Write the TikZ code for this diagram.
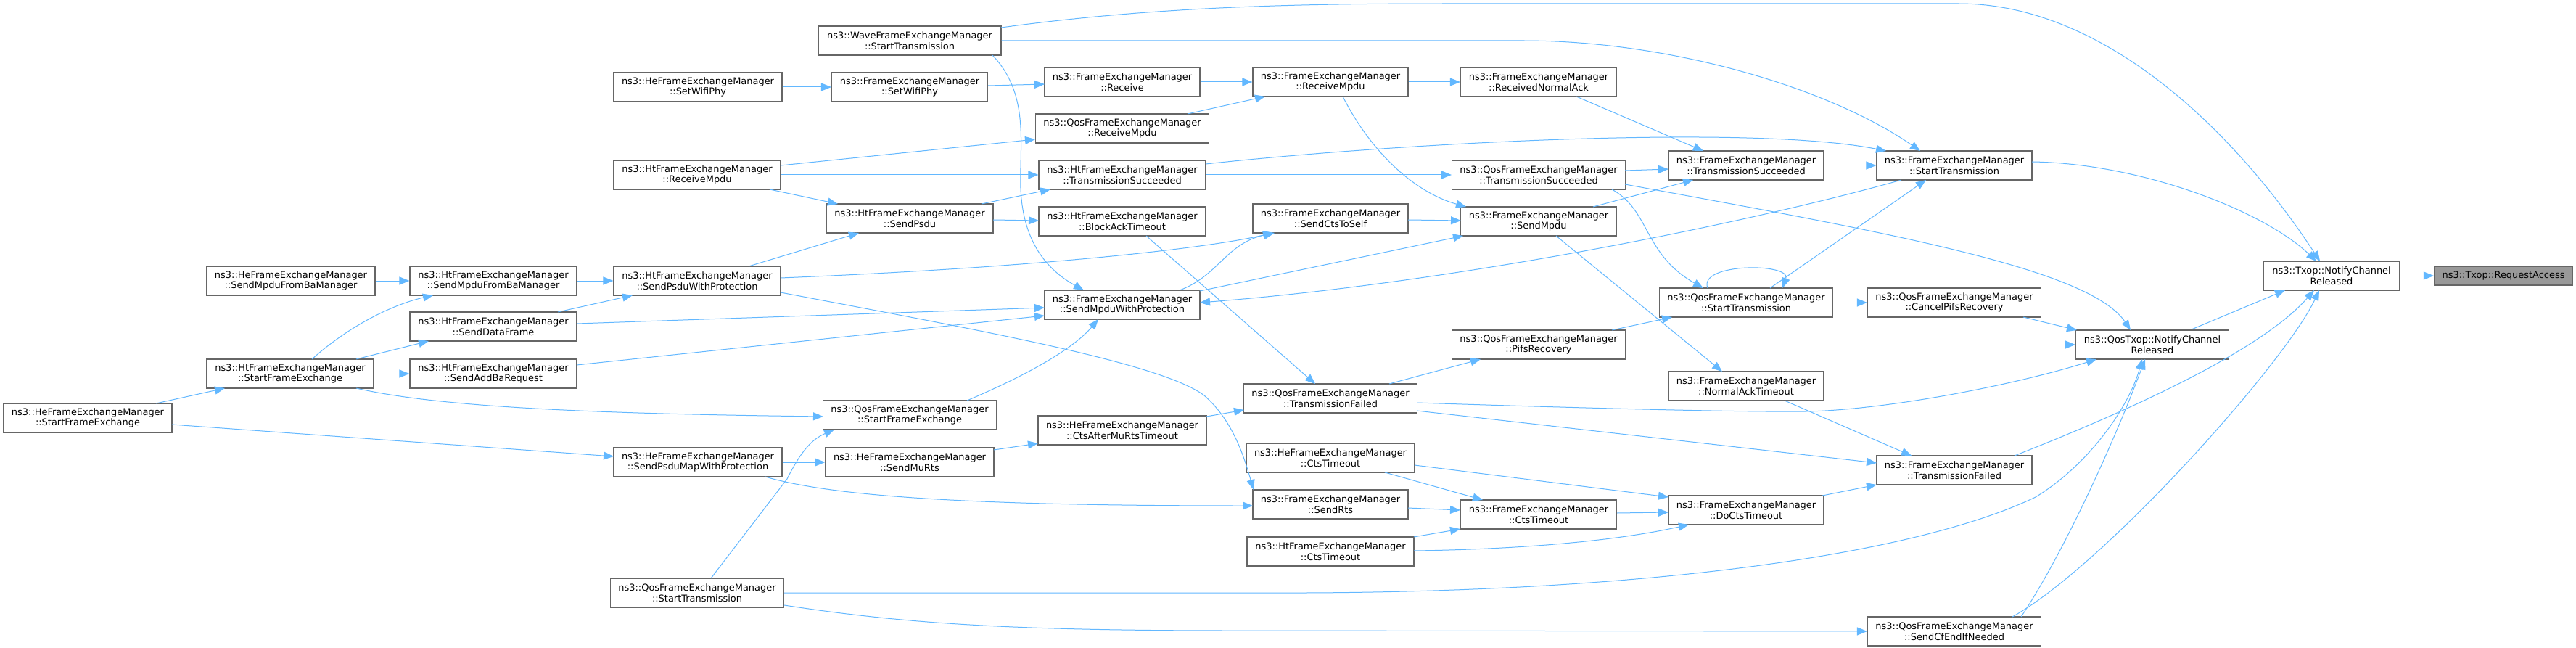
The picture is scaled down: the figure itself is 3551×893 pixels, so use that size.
\documentclass[tikz,border=0pt]{standalone}
\usepackage{fontspec}
\setmainfont{DejaVu Sans}
\usetikzlibrary{arrows.meta,calc}
\definecolor{boxgray}{HTML}{666666}
\definecolor{rootgray}{HTML}{999999}
\definecolor{edgeblue}{HTML}{63B8FF}
\newcommand\nodefont{\fontsize{12.95pt}{14.7pt}\selectfont}
\begin{document}
\begin{tikzpicture}[x=1pt,y=-1pt,
  box/.style={draw=boxgray, line width=1.1pt, fill=white, inner sep=0pt, align=center,
    font=\nodefont, minimum height=40pt, text=black},
  rootbox/.style={box, fill=rootgray, minimum height=26pt},
  e/.style={draw=edgeblue, line width=1.0pt, -{Triangle[length=14pt,width=11pt]}}]
\useasboundingbox[fill=white] (0,0) rectangle (3551,893);

% nodes
\node[box, minimum width=232pt] (A1) at (401,387) {ns3::HeFrameExchangeManager\\::SendMpduFromBaManager};
\node[box, minimum width=232pt] (A2) at (121,576) {ns3::HeFrameExchangeManager\\::StartFrameExchange};
\node[box, minimum width=230pt] (B1) at (680,387) {ns3::HtFrameExchangeManager\\::SendMpduFromBaManager};
\node[box, minimum width=230pt] (B2) at (680,450) {ns3::HtFrameExchangeManager\\::SendDataFrame};
\node[box, minimum width=230pt] (B3) at (680,515) {ns3::HtFrameExchangeManager\\::SendAddBaRequest};
\node[box, minimum width=230pt] (B4) at (400,515) {ns3::HtFrameExchangeManager\\::StartFrameExchange};
\node[box, minimum width=232pt] (C1) at (962,120) {ns3::HeFrameExchangeManager\\::SetWifiPhy};
\node[box, minimum width=230pt] (C2) at (961,241) {ns3::HtFrameExchangeManager\\::ReceiveMpdu};
\node[box, minimum width=230pt] (C3) at (961,387) {ns3::HtFrameExchangeManager\\::SendPsduWithProtection};
\node[box, minimum width=232pt] (C4) at (962,637) {ns3::HeFrameExchangeManager\\::SendPsduMapWithProtection};
\node[box, minimum width=239pt] (C5) at (961,817) {ns3::QosFrameExchangeManager\\::StartTransmission};
\node[box, minimum width=252pt] (D1) at (1254,56) {ns3::WaveFrameExchangeManager\\::StartTransmission};
\node[box, minimum width=215pt] (D2) at (1254,120) {ns3::FrameExchangeManager\\::SetWifiPhy};
\node[box, minimum width=230pt] (D3) at (1254,301) {ns3::HtFrameExchangeManager\\::SendPsdu};
\node[box, minimum width=239pt] (D4) at (1254,572) {ns3::QosFrameExchangeManager\\::StartFrameExchange};
\node[box, minimum width=232pt] (D5) at (1254,637) {ns3::HeFrameExchangeManager\\::SendMuRts};
\node[box, minimum width=214pt] (E1) at (1547,113) {ns3::FrameExchangeManager\\::Receive};
\node[box, minimum width=239pt] (E2) at (1547,177) {ns3::QosFrameExchangeManager\\::ReceiveMpdu};
\node[box, minimum width=230pt] (E3) at (1547,241) {ns3::HtFrameExchangeManager\\::TransmissionSucceeded};
\node[box, minimum width=230pt] (E4) at (1547,305) {ns3::HtFrameExchangeManager\\::BlockAckTimeout};
\node[box, minimum width=214pt] (E5) at (1547,420) {ns3::FrameExchangeManager\\::SendMpduWithProtection};
\node[box, minimum width=232pt] (E6) at (1547,593) {ns3::HeFrameExchangeManager\\::CtsAfterMuRtsTimeout};
\node[box, minimum width=214pt] (F1) at (1834,113) {ns3::FrameExchangeManager\\::ReceiveMpdu};
\node[box, minimum width=214pt] (F2) at (1834,301) {ns3::FrameExchangeManager\\::SendCtsToSelf};
\node[box, minimum width=239pt] (F3) at (1834,549) {ns3::QosFrameExchangeManager\\::TransmissionFailed};
\node[box, minimum width=232pt] (F4) at (1834,631) {ns3::HeFrameExchangeManager\\::CtsTimeout};
\node[box, minimum width=214pt] (F5) at (1834,695) {ns3::FrameExchangeManager\\::SendRts};
\node[box, minimum width=230pt] (F6) at (1834,760) {ns3::HtFrameExchangeManager\\::CtsTimeout};
\node[box, minimum width=215pt] (G1) at (2121,113) {ns3::FrameExchangeManager\\::ReceivedNormalAck};
\node[box, minimum width=239pt] (G2) at (2121,241) {ns3::QosFrameExchangeManager\\::TransmissionSucceeded};
\node[box, minimum width=215pt] (G3) at (2121,305) {ns3::FrameExchangeManager\\::SendMpdu};
\node[box, minimum width=239pt] (G4) at (2121,475) {ns3::QosFrameExchangeManager\\::PifsRecovery};
\node[box, minimum width=215pt] (G5) at (2121,709) {ns3::FrameExchangeManager\\::CtsTimeout};
\node[box, minimum width=214pt] (H1) at (2407,228) {ns3::FrameExchangeManager\\::TransmissionSucceeded};
\node[box, minimum width=239pt] (H2) at (2407,417) {ns3::QosFrameExchangeManager\\::StartTransmission};
\node[box, minimum width=214pt] (H3) at (2407,532) {ns3::FrameExchangeManager\\::NormalAckTimeout};
\node[box, minimum width=214pt] (H4) at (2407,703) {ns3::FrameExchangeManager\\::DoCtsTimeout};
\node[box, minimum width=214pt] (I1) at (2694,228) {ns3::FrameExchangeManager\\::StartTransmission};
\node[box, minimum width=239pt] (I2) at (2694,417) {ns3::QosFrameExchangeManager\\::CancelPifsRecovery};
\node[box, minimum width=214pt] (I3) at (2694,648) {ns3::FrameExchangeManager\\::TransmissionFailed};
\node[box, minimum width=239pt] (I4) at (2694,870) {ns3::QosFrameExchangeManager\\::SendCfEndIfNeeded};
\node[box, minimum width=211pt] (J1) at (2967,475) {ns3::QosTxop::NotifyChannel\\Released};
\node[box, minimum width=187pt] (K1) at (3214,380) {ns3::Txop::NotifyChannel\\Released};
\node[rootbox, minimum width=191pt] (L1) at (3451,380) {ns3::Txop::RequestAccess};

% edges
\draw[e] (K1.east) -- (L1.west);
\draw[e] ($(J1)+(54,-21)$) -- ($(K1)+(-64,20)$);
\draw[e] ($(I1)+(107,-5)$) .. controls (2950,225) and (3120,290) .. ($(K1)+(-21,-20)$);
\draw[e] ($(D1)+(126,-18)$) .. controls (1600,8) and (1800,5) .. (2000,5) -- (2700,5)
   .. controls (2900,5) and (3080,180) .. ($(K1)+(-16,-20)$);
\draw[e] (D1.east) -- (2100,56) .. controls (2300,56) and (2520,120) .. ($(I1)+(-47,-20)$);
\draw[e] ($(E3)+(115,-15)$) .. controls (1950,195) and (2420,172) .. ($(I1)+(-94,-20)$);
\draw[e] (E3.east) -- (G2.west);
\draw[e] (C2.east) -- (E3.west);
\draw[e] ($(C2)+(115,-13)$) -- ($(E2)+(-120,15)$);
\draw[e] ($(C2)+(100,20)$) -- ($(D3)+(-99,-20)$);
\draw[e] ($(D3)+(99,-20)$) -- ($(E3)+(-99,20)$);
\draw[e] ($(D3)+(115,2)$) -- ($(E4)+(-115,-1)$);
\draw[e] ($(C3)+(71,-20)$) -- ($(D3)+(-70,20)$);
\draw[e] ($(C3)+(115,-4)$) .. controls (1400,370) and (1650,345) .. ($(F2)+(-79,20)$);
\draw[e] ($(C3)+(115,16)$) .. controls (1350,455) and (1600,500) .. (1660,545)
   .. controls (1700,580) and (1715,630) .. ($(F5)+(-106,-20)$);
\draw[e] ($(E5)+(79,-20)$) .. controls (1680,380) and (1690,335) .. ($(F2)+(-77,20)$);
\draw[e] ($(E5)+(107,-19)$) -- ($(G3)+(-104,20)$);
\draw[e] ($(I1)+(-73,20)$) .. controls (2400,310) and (2000,390) .. ($(E5)+(107,-3)$);
\draw[e] ($(D1)+(114,20)$) .. controls (1420,130) and (1405,200) .. (1407,260)
   .. controls (1410,330) and (1440,370) .. ($(E5)+(-53,-20)$);
\draw[e] ($(D4)+(79,-20)$) .. controls (1420,515) and (1480,480) .. ($(E5)+(-33,20)$);
\draw[e] ($(B2)+(115,-4)$) -- ($(E5)+(-107,4)$);
\draw[e] ($(B3)+(115,-12)$) -- ($(E5)+(-107,15)$);
\draw[e] ($(B2)+(89,-20)$) -- ($(C3)+(-89,20)$);
\draw[e] (B1.east) -- (C3.west);
\draw[e] (A1.east) -- (B1.west);
\draw[e] ($(B4)+(30,-20)$) .. controls (480,450) and (540,420) .. ($(B1)+(-83,20)$);
\draw[e] ($(B4)+(91,-20)$) -- ($(B2)+(-89,20)$);
\draw[e] (B4.east) -- (B3.west);
\draw[e] ($(B4)+(91,20)$) .. controls (600,560) and (800,570) .. ($(D4)+(-119,2)$);
\draw[e] ($(A2)+(94,-20)$) -- ($(B4)+(-90,20)$);
\draw[e] ($(A2)+(116,9)$) -- ($(C4)+(-116,-8)$);
\draw[e] (C1.east) -- (D2.west);
\draw[e] ($(D2)+(108,-2)$) -- ($(E1)+(-107,3)$);
\draw[e] (E1.east) -- (F1.west);
\draw[e] ($(E2)+(90,-20)$) -- ($(F1)+(-90,20)$);
\draw[e] (F1.east) -- (G1.west);
\draw[e] ($(F1)+(17,20)$) .. controls (1890,210) and (1950,265) .. ($(G3)+(-100,-20)$);
\draw[e] ($(G1)+(52,20)$) -- ($(H1)+(-59,-20)$);
\draw[e] ($(G2)+(119,-6)$) -- ($(H1)+(-107,5)$);
\draw[e] ($(G3)+(75,-20)$) -- ($(H1)+(-73,20)$);
\draw[e] (H1.east) -- (I1.west);
\draw[e] ($(F2)+(107,2)$) -- ($(G3)+(-107,-1)$);
\draw[e] ($(G2)+(101,20)$) .. controls (2275,290) and (2265,350) .. ($(H2)+(-59,-20)$);
\draw[e] ($(H2)+(-53,-20)$) .. controls (2340,362) and (2470,362) .. ($(H2)+(50,-20)$);
\draw[e] ($(H2)+(33,-20)$) -- ($(I1)+(-39,20)$);
\draw[e] (H2.east) -- (I2.west);
\draw[e] ($(G4)+(101,-20)$) -- ($(H2)+(-102,20)$);
\draw[e] ($(G3)+(24,20)$) -- ($(H3)+(-33,-20)$);
\draw[e] ($(G2)+(119,13)$) .. controls (2600,320) and (2880,370) .. ($(J1)+(-30,-20)$);
\draw[e] ($(I2)+(95,20)$) -- ($(J1)+(-104,-20)$);
\draw[e] (G4.east) -- (J1.west);
\draw[e] ($(F3)+(81,-20)$) -- ($(G4)+(-80,20)$);
\draw[e] ($(F3)+(119,6)$) .. controls (2200,563) and (2400,568) .. (2490,567)
   .. controls (2600,565) and (2780,530) .. ($(J1)+(-77,20)$);
\draw[e] ($(F3)+(119,17)$) -- ($(I3)+(-107,-10)$);
\draw[e] ($(E4)+(33,20)$) -- ($(F3)+(-21,-20)$);
\draw[e] ($(H3)+(53,20)$) -- ($(I3)+(-59,-20)$);
\draw[e] ($(E6)+(116,-19)$) -- ($(F3)+(-119,16)$);
\draw[e] ($(D5)+(116,-17)$) -- ($(E6)+(-116,18)$);
\draw[e] (C4.east) -- (D5.west);
\draw[e] ($(C4)+(93,20)$) .. controls (1150,685) and (1350,697) .. ($(F5)+(-107,2)$);
\draw[e] ($(C5)+(19,-20)$) -- (1085,660) .. controls (1105,620) and (1120,605) .. ($(D4)+(-104,20)$);
\draw[e] (C5.east) -- (1800,817) .. controls (2300,815) and (2650,760) .. (2806,685)
   .. controls (2880,640) and (2935,560) .. ($(J1)+(-14,20)$);
\draw[e] ($(C5)+(120,17)$) .. controls (1250,860) and (1400,869) .. (1700,869) -- (I4.west);
\draw[e] ($(I4)+(92,-20)$) .. controls (2840,770) and (2910,620) .. ($(J1)+(-10,20)$);
\draw[e] ($(I4)+(80,-20)$) .. controls (2900,780) and (3150,500) .. ($(K1)+(-17,20)$);
\draw[e] ($(I3)+(83,-20)$) .. controls (2950,560) and (3120,480) .. ($(K1)+(-24,20)$);
\draw[e] ($(H4)+(105,-20)$) -- ($(I3)+(-107,20)$);
\draw[e] ($(F4)+(75,20)$) -- ($(G5)+(-77,-20)$);
\draw[e] ($(F4)+(116,10)$) -- ($(H4)+(-107,-18)$);
\draw[e] ($(F5)+(107,5)$) -- ($(G5)+(-108,-6)$);
\draw[e] ($(F6)+(115,-20)$) -- ($(G5)+(-108,20)$);
\draw[e] ($(F6)+(115,-1)$) .. controls (2100,757) and (2230,745) .. ($(H4)+(-79,20)$);
\draw[e] ($(G5)+(108,-2)$) -- ($(H4)+(-107,3)$);
\end{tikzpicture}
\end{document}
